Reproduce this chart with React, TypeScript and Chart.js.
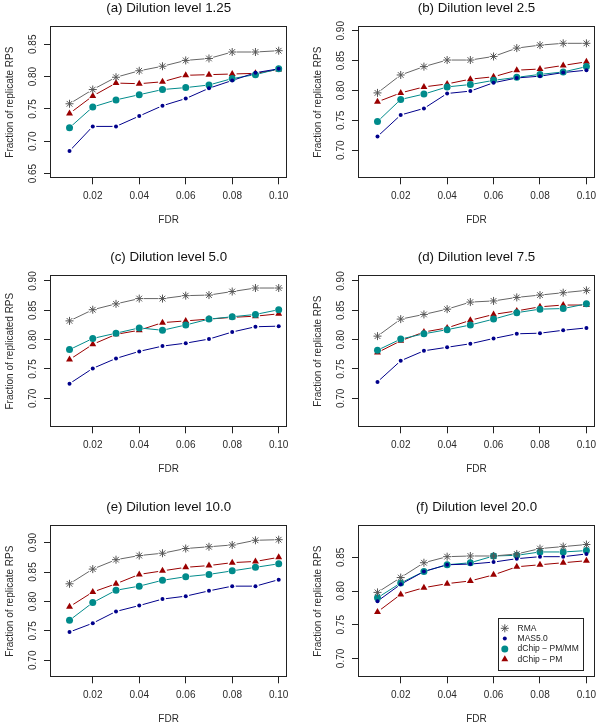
import React, { useEffect, useRef } from 'react';
import { Chart, registerables } from 'chart.js';

Chart.register(...registerables);

// ---------- data ----------
const FDR = [0.01, 0.02, 0.03, 0.04, 0.05, 0.06, 0.07, 0.08, 0.09, 0.1];
const X_TICKS = [0.02, 0.04, 0.06, 0.08, 0.1];
const SERIES_NAMES = ['RMA', 'MAS5.0', 'dChip \u2212 PM/MM', 'dChip \u2212 PM'];

// (a) dilution 1.25
const rmaA = [0.758, 0.780, 0.799, 0.809, 0.816, 0.825, 0.828, 0.838, 0.838, 0.840];
const mas5A = [0.685, 0.723, 0.723, 0.739, 0.755, 0.766, 0.782, 0.794, 0.806, 0.812];
const pmmmA = [0.721, 0.753, 0.764, 0.772, 0.780, 0.783, 0.787, 0.797, 0.803, 0.812];
const pmA = [0.743, 0.770, 0.790, 0.789, 0.792, 0.802, 0.803, 0.804, 0.805, 0.811];
// (b) dilution 2.5
const rmaB = [0.796, 0.826, 0.840, 0.851, 0.851, 0.857, 0.871, 0.876, 0.879, 0.879];
const mas5B = [0.723, 0.759, 0.770, 0.795, 0.799, 0.813, 0.821, 0.824, 0.830, 0.834];
const pmmmB = [0.748, 0.785, 0.794, 0.806, 0.810, 0.817, 0.822, 0.827, 0.831, 0.840];
const pmB = [0.781, 0.796, 0.806, 0.811, 0.819, 0.823, 0.834, 0.836, 0.842, 0.848];
// (c) dilution 5.0
const rmaC = [0.832, 0.851, 0.861, 0.870, 0.870, 0.875, 0.876, 0.882, 0.888, 0.888];
const mas5C = [0.725, 0.751, 0.768, 0.780, 0.789, 0.794, 0.801, 0.813, 0.822, 0.823];
const pmmmC = [0.783, 0.802, 0.811, 0.820, 0.816, 0.825, 0.835, 0.839, 0.843, 0.851];
const pmC = [0.766, 0.792, 0.809, 0.816, 0.829, 0.832, 0.835, 0.838, 0.840, 0.844];
// (d) dilution 7.5
const rmaD = [0.806, 0.835, 0.843, 0.852, 0.864, 0.866, 0.872, 0.876, 0.880, 0.884];
const mas5D = [0.728, 0.764, 0.781, 0.787, 0.793, 0.802, 0.810, 0.811, 0.816, 0.820];
const pmmmD = [0.782, 0.801, 0.810, 0.817, 0.825, 0.835, 0.846, 0.852, 0.853, 0.861];
const pmD = [0.778, 0.798, 0.813, 0.820, 0.833, 0.843, 0.849, 0.856, 0.859, 0.859];
// (e) dilution 10.0
const rmaE = [0.830, 0.855, 0.871, 0.878, 0.882, 0.890, 0.893, 0.896, 0.904, 0.905];
const mas5E = [0.748, 0.763, 0.783, 0.793, 0.804, 0.809, 0.818, 0.826, 0.826, 0.837];
const pmmmE = [0.768, 0.798, 0.819, 0.826, 0.836, 0.842, 0.846, 0.852, 0.858, 0.864];
const pmE = [0.791, 0.816, 0.830, 0.846, 0.852, 0.858, 0.861, 0.866, 0.868, 0.875];
// (f) dilution 20.0
const rmaF = [0.798, 0.820, 0.842, 0.851, 0.852, 0.852, 0.855, 0.863, 0.866, 0.869];
const mas5F = [0.785, 0.810, 0.829, 0.839, 0.840, 0.843, 0.848, 0.851, 0.851, 0.855];
const pmmmF = [0.790, 0.812, 0.829, 0.839, 0.842, 0.852, 0.853, 0.858, 0.858, 0.860];
const pmF = [0.769, 0.795, 0.805, 0.811, 0.815, 0.824, 0.836, 0.839, 0.842, 0.845];

const Y_TICKS_A = [0.65, 0.7, 0.75, 0.8, 0.85];
const Y_TICKS_BE = [0.7, 0.75, 0.8, 0.85, 0.9];
const Y_TICKS_F = [0.7, 0.75, 0.8, 0.85];

const Y_LABEL = 'Fraction of replicate RPS';
const Y_LABEL_C = 'Fraction of replicated RPS';

// ---------- styles ----------
const LINE_COLORS = ['#666666', '#00008B', '#008B8B', '#9A0000'];
const MARK_COLORS = ['#555555', '#00008B', '#008B8B', '#9A0000'];
const MARK_STYLES = ['star', 'circle', 'circle', 'triangle'];
const MARK_RADII = [4, 2, 3.5, 4];
const HALO_RADII = [4.5, 3.5, 4, 4.5];
const FONT = '"Liberation Sans", Arial, Helvetica, sans-serif';
const X_MIN = 0.0016;
const X_MAX = 0.1037;

interface PanelCfg {
  title: string;
  yLabel: string;
  yMin: number;
  yMax: number;
  yTicks: number[];
  series: number[][];
  col: number;
  row: number;
  legend: boolean;
}

const PANELS: PanelCfg[] = [
  { title: '(a) Dilution level 1.25', yLabel: Y_LABEL, yMin: 0.6428, yMax: 0.8782, yTicks: Y_TICKS_A, series: [rmaA, mas5A, pmmmA, pmA], col: 0, row: 0, legend: false },
  { title: '(b) Dilution level 2.5', yLabel: Y_LABEL, yMin: 0.653, yMax: 0.908, yTicks: Y_TICKS_BE, series: [rmaB, mas5B, pmmmB, pmB], col: 1, row: 0, legend: false },
  { title: '(c) Dilution level 5.0', yLabel: Y_LABEL_C, yMin: 0.6506, yMax: 0.9102, yTicks: Y_TICKS_BE, series: [rmaC, mas5C, pmmmC, pmC], col: 0, row: 1, legend: false },
  { title: '(d) Dilution level 7.5', yLabel: Y_LABEL, yMin: 0.6506, yMax: 0.9102, yTicks: Y_TICKS_BE, series: [rmaD, mas5D, pmmmD, pmD], col: 1, row: 1, legend: false },
  { title: '(e) Dilution level 10.0', yLabel: Y_LABEL, yMin: 0.671, yMax: 0.930, yTicks: Y_TICKS_BE, series: [rmaE, mas5E, pmmmE, pmE], col: 0, row: 2, legend: false },
  { title: '(f) Dilution level 20.0', yLabel: Y_LABEL, yMin: 0.672, yMax: 0.898, yTicks: Y_TICKS_F, series: [rmaF, mas5F, pmmmF, pmF], col: 1, row: 2, legend: true },
];

const CANVAS_W = 300;
const CANVAS_H = 227;
const ROW_TOPS = [0, 249, 499];
const COL_LEFTS = [0, 300];
const BOX_LEFT = [50, 58];
const PAD_RIGHT = [12.7, 4.3];
const BOX_TOP = 26;
const X_AXIS_H = 48.7;

function drawMarker(ctx: CanvasRenderingContext2D, s: number, x: number, y: number) {
  const r = MARK_RADII[s];
  ctx.save();
  ctx.fillStyle = MARK_COLORS[s];
  ctx.strokeStyle = MARK_COLORS[s];
  ctx.lineWidth = 1;
  if (MARK_STYLES[s] === 'star') {
    ctx.beginPath();
    for (let k = 0; k < 4; k++) {
      const a = (k * Math.PI) / 4;
      ctx.moveTo(x - Math.cos(a) * r, y - Math.sin(a) * r);
      ctx.lineTo(x + Math.cos(a) * r, y + Math.sin(a) * r);
    }
    ctx.stroke();
  } else if (MARK_STYLES[s] === 'circle') {
    ctx.beginPath();
    ctx.arc(x, y, r, 0, Math.PI * 2);
    ctx.fill();
  } else {
    ctx.beginPath();
    for (let k = 0; k < 3; k++) {
      const a = (k * 2 * Math.PI) / 3;
      const px = x + Math.sin(a) * r;
      const py = y - Math.cos(a) * r;
      if (k === 0) ctx.moveTo(px, py);
      else ctx.lineTo(px, py);
    }
    ctx.closePath();
    ctx.fill();
  }
  ctx.restore();
}

function Panel({ cfg }: { cfg: PanelCfg }) {
  const ref = useRef<HTMLCanvasElement>(null);
  useEffect(() => {
    const canvas = ref.current;
    if (!canvas) return;
    const datasets: any[] = [];
    cfg.series.forEach((vals, s) => {
      const pts = FDR.map((x, i) => ({ x, y: vals[i] }));
      datasets.push({
        label: SERIES_NAMES[s] + ' line',
        data: pts,
        borderColor: LINE_COLORS[s],
        borderWidth: 1,
        tension: 0,
        pointRadius: HALO_RADII[s],
        pointHoverRadius: HALO_RADII[s],
        pointBackgroundColor: '#ffffff',
        pointBorderColor: '#ffffff',
        pointBorderWidth: 0,
        order: 2,
      });
    });
    cfg.series.forEach((vals, s) => {
      const pts = FDR.map((x, i) => ({ x, y: vals[i] }));
      datasets.push({
        label: SERIES_NAMES[s],
        data: pts,
        showLine: false,
        pointStyle: MARK_STYLES[s],
        pointRadius: MARK_RADII[s],
        pointHoverRadius: MARK_RADII[s],
        pointBackgroundColor: MARK_COLORS[s],
        pointBorderColor: MARK_COLORS[s],
        pointBorderWidth: MARK_STYLES[s] === 'star' ? 1 : 0,
        order: 1,
      });
    });

    const textPlugin = {
      id: 'rtext',
      afterDraw(chart: any) {
        const ctx: CanvasRenderingContext2D = chart.ctx;
        const { left, right, top, bottom } = chart.chartArea;
        const xs = chart.scales.x;
        const ys = chart.scales.y;
        ctx.save();
        // box
        ctx.strokeStyle = '#222';
        ctx.lineWidth = 1;
        const l = Math.round(left) + 0.5;
        const t = Math.round(top) + 0.5;
        const r = Math.round(right) - 0.5;
        const b = Math.round(bottom) - 0.5;
        ctx.strokeRect(l, t, r - l, b - t);
        const cx = (left + right) / 2;
        // title
        ctx.fillStyle = '#111';
        ctx.textAlign = 'center';
        ctx.textBaseline = 'middle';
        ctx.font = `13.3px ${FONT}`;
        ctx.fillText(cfg.title, cx, top - 18);
        // x tick labels
        ctx.fillStyle = '#2a2a2a';
        ctx.font = `10px ${FONT}`;
        X_TICKS.forEach((v) => {
          ctx.fillText(v.toFixed(2), xs.getPixelForValue(v), bottom + 18.4);
        });
        // x title
        ctx.fillText('FDR', cx, bottom + 41.5);
        // y tick labels (rotated)
        cfg.yTicks.forEach((v) => {
          ctx.save();
          ctx.translate(left - 17, ys.getPixelForValue(v));
          ctx.rotate(-Math.PI / 2);
          ctx.fillText(v.toFixed(2), 0, 0);
          ctx.restore();
        });
        // y title
        ctx.save();
        ctx.translate(left - 39.5, (top + bottom) / 2);
        ctx.rotate(-Math.PI / 2);
        ctx.fillText(cfg.yLabel, 0, 0);
        ctx.restore();

        if (cfg.legend) {
          const lw = 85;
          const lh = 52;
          const lr = right - 11.7;
          const lb = bottom - 7.3;
          const ll = lr - lw;
          const lt = lb - lh;
          ctx.fillStyle = '#fff';
          ctx.fillRect(ll, lt, lw, lh);
          ctx.strokeStyle = '#222';
          ctx.strokeRect(Math.round(ll) + 0.5, Math.round(lt) + 0.5, Math.round(lw), Math.round(lh));
          ctx.font = `8.5px ${FONT}`;
          ctx.textAlign = 'left';
          SERIES_NAMES.forEach((name, s) => {
            const yy = lt + 10.3 + s * 10.3;
            drawMarker(ctx, s, ll + 6.5, yy);
            ctx.fillStyle = '#1a1a1a';
            ctx.fillText(name, ll + 19.3, yy);
          });
        }
        ctx.restore();
      },
    };

    const axisCommon = {
      type: 'linear',
      ticks: { display: false },
      border: { display: false },
      grid: {
        drawOnChartArea: false,
        drawTicks: true,
        tickLength: 6,
        color: '#222',
        lineWidth: 1,
      },
    };

    const chart = new Chart(canvas, {
      type: 'line',
      data: { datasets },
      options: {
        animation: false,
        responsive: false,
        maintainAspectRatio: false,
        events: [],
        layout: {
          padding: { left: 0, right: PAD_RIGHT[cfg.col], top: BOX_TOP, bottom: 0 },
        },
        plugins: {
          legend: { display: false },
          tooltip: { enabled: false },
          title: { display: false },
        },
        scales: {
          x: {
            ...axisCommon,
            min: X_MIN,
            max: X_MAX,
            afterBuildTicks: (axis: any) => {
              axis.ticks = X_TICKS.map((v) => ({ value: v }));
            },
            afterFit: (axis: any) => {
              axis.height = X_AXIS_H;
            },
          },
          y: {
            ...axisCommon,
            min: cfg.yMin,
            max: cfg.yMax,
            afterBuildTicks: (axis: any) => {
              axis.ticks = cfg.yTicks.map((v) => ({ value: v }));
            },
            afterFit: (axis: any) => {
              axis.width = BOX_LEFT[cfg.col];
            },
          },
        },
      } as any,
      plugins: [textPlugin],
    });
    return () => chart.destroy();
  }, [cfg]);

  return (
    <canvas
      ref={ref}
      width={CANVAS_W}
      height={CANVAS_H}
      style={{
        position: 'absolute',
        left: COL_LEFTS[cfg.col],
        top: ROW_TOPS[cfg.row],
        width: CANVAS_W,
        height: CANVAS_H,
      }}
    />
  );
}

export default function App() {
  return (
    <div
      style={{
        position: 'absolute',
        left: 0,
        top: 0,
        width: 600,
        height: 726,
        background: '#fff',
        overflow: 'hidden',
      }}
    >
      {PANELS.map((p, i) => (
        <Panel key={i} cfg={p} />
      ))}
    </div>
  );
}
